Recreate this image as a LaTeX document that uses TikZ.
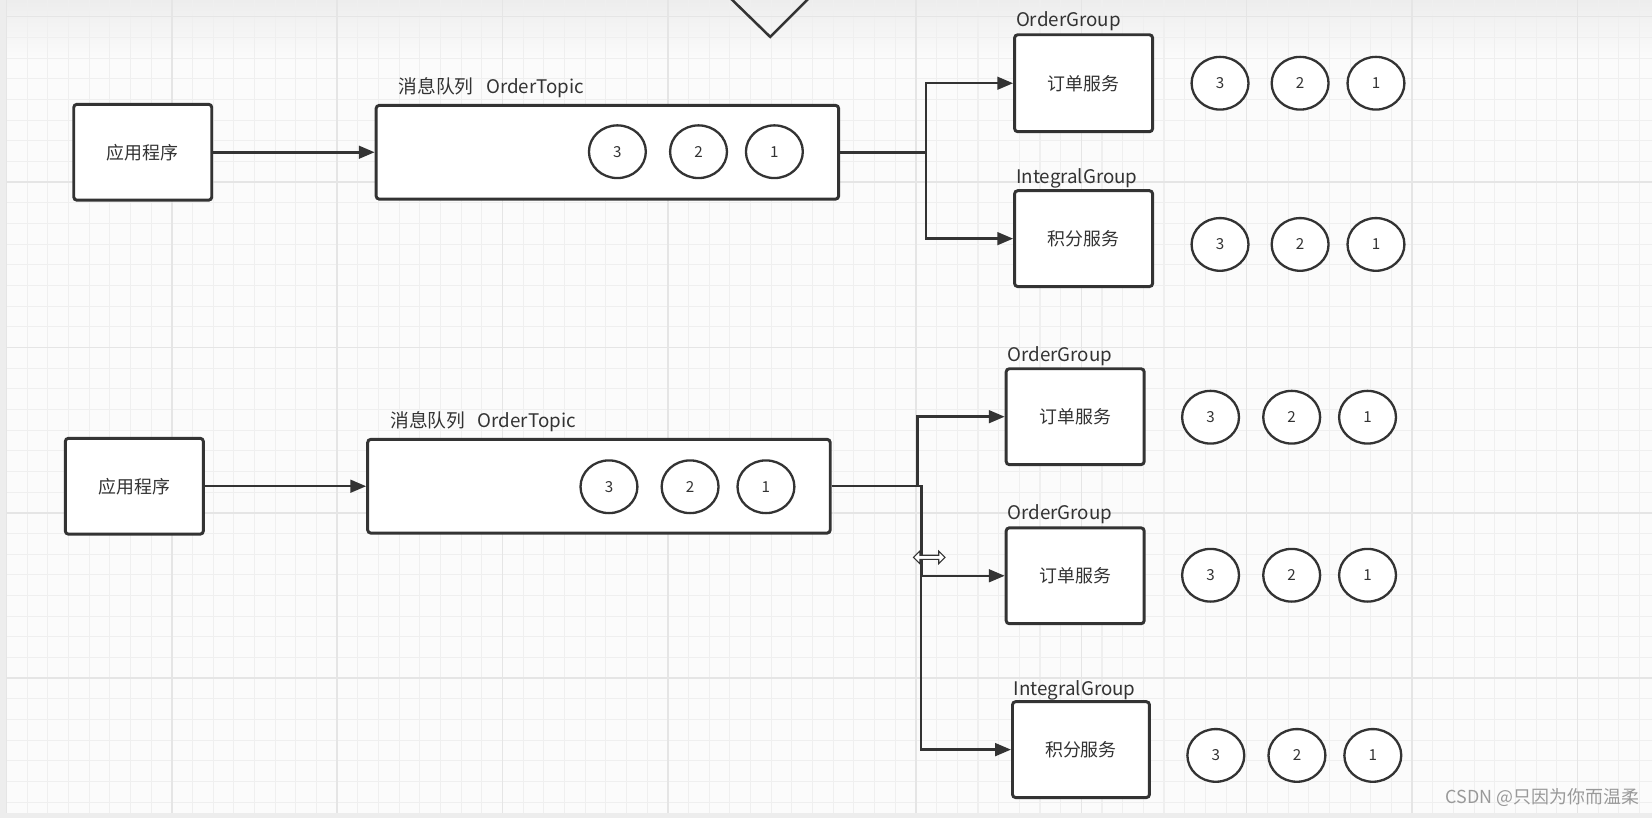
\documentclass[tikz,border=0pt]{standalone}
\usepackage{fontspec}
\setmainfont{Noto Sans CJK SC}
\usetikzlibrary{shapes.geometric,arrows.meta}
\definecolor{ink}{HTML}{333333}
\definecolor{bg}{HTML}{FBFBFB}
\definecolor{gridminor}{HTML}{EFEFEF}
\definecolor{gridmajor}{HTML}{E5E5E5}
\definecolor{strip}{HTML}{EDEDED}
\definecolor{mark}{HTML}{999999}
\begin{document}
\begin{tikzpicture}[x=0.5pt,y=-0.5pt,
 box/.style={draw=ink,line width=1.4pt,rounded corners=1.5pt,fill=white,minimum width=65.5pt,minimum height=45.5pt,inner sep=0pt,font=\fontsize{8.5}{9}\selectfont,text=ink},
 queue/.style={box,minimum width=219.5pt,minimum height=44.5pt},
 msg/.style={draw=ink,ellipse,fill=white,line width=1.1pt,minimum width=27pt,minimum height=25pt,inner sep=0pt,font=\fontsize{7.2}{8}\selectfont,text=ink},
 grouplabel/.style={anchor=west,inner sep=0pt,font=\fontsize{8.9}{9}\selectfont,text=ink},
 conn/.style={draw=ink,line width=1.2pt},
 arr/.style={conn,-{Triangle[length=7.5pt,width=6pt]}},
 minorline/.style={draw=gridminor,line width=0.5pt},
 majorline/.style={draw=gridmajor,line width=0.7pt},
]
\useasboundingbox (0,0) rectangle (1568,776);
% background and grid
\fill[bg] (0,0) rectangle (1568,776);
\shade[top color=strip,bottom color=bg] (0,0) rectangle (1568,55);
\foreach \k in {0,...,79} {\draw[minorline] ({6.1+19.62*\k},0) -- ({6.1+19.62*\k},772);}
\foreach \k in {-1,...,38} {\draw[minorline] (0,{15.9+19.62*\k}) -- (1568,{15.9+19.62*\k});}
\foreach \k in {0,8,16,24,32,44,52,60,68,76} {\draw[majorline] ({6.1+19.62*\k},0) -- ({6.1+19.62*\k},772);}
\foreach \k in {0,8,16,24,32} {\draw[majorline] (0,{15.9+19.62*\k}) -- (1568,{15.9+19.62*\k});}
\fill[strip] (0,0) rectangle (6,776);
\fill[strip] (0,772) rectangle (1568,776);

% partial shape at top
\draw[ink,line width=1.2pt] (693,-2) -- (731,35) -- (768,-2);

% ===== top section =====
\node[box] (app1) at (135.5,144.5) {应用程序};
\node[queue] (q1) at (576.5,144.5) {};
\node[grouplabel] (q1l) at (378,83) {消息队列\hspace{6pt}OrderTopic};
\node[msg] (q1m3) at (586,144) {3};
\node[msg] (q1m2) at (663,144) {2};
\node[msg] (q1m1) at (735,144) {1};

\node[box,minimum height=46pt] (og1) at (1028.5,79) {订单服务};
\node[grouplabel] (og1l) at (964,20) {OrderGroup};
\node[msg] (og1m3) at (1158,79) {3};
\node[msg] (og1m2) at (1234,79) {2};
\node[msg] (og1m1) at (1306,79) {1};

\node[box] (ig1) at (1028.5,226.5) {积分服务};
\node[grouplabel] (ig1l) at (964,169) {IntegralGroup};
\node[msg] (ig1m3) at (1158,232) {3};
\node[msg] (ig1m2) at (1234,232) {2};
\node[msg] (ig1m1) at (1306,232) {1};

\coordinate (j1) at (879,144.5);
\draw[arr] (app1.east) -- (q1.west);
\draw[arr] (q1.east) -- (j1) |- (og1.west);
\draw[arr] (q1.east) -- (j1) |- (ig1.west);

% ===== bottom section =====
\node[box] (app2) at (127.5,461.5) {应用程序};
\node[queue] (q2) at (568.5,461.5) {};
\node[grouplabel] (q2l) at (370,400) {消息队列\hspace{6pt}OrderTopic};
\node[msg] (q2m3) at (578,462) {3};
\node[msg] (q2m2) at (655,462) {2};
\node[msg] (q2m1) at (727,462) {1};

\node[box] (og2) at (1020.5,395.5) {订单服务};
\node[grouplabel] (og2l) at (956,338) {OrderGroup};
\node[msg] (og2m3) at (1149,396) {3};
\node[msg] (og2m2) at (1226,396) {2};
\node[msg] (og2m1) at (1298,396) {1};

\node[box] (og3) at (1020.5,546.5) {订单服务};
\node[grouplabel] (og3l) at (956,488) {OrderGroup};
\node[msg] (og3m3) at (1149,546) {3};
\node[msg] (og3m2) at (1226,546) {2};
\node[msg] (og3m1) at (1298,546) {1};

\node[box,minimum width=65pt] (ig2) at (1026,711.5) {积分服务};
\node[grouplabel] (ig2l) at (962,655) {IntegralGroup};
\node[msg] (ig2m3) at (1154,717) {3};
\node[msg] (ig2m2) at (1231,717) {2};
\node[msg] (ig2m1) at (1303,717) {1};

\coordinate (jA) at (871,461.5);
\coordinate (jB) at (875,461.5);
\coordinate (jC) at (874,461.5);
\draw[arr] (app2.east) -- (q2.west);
\draw[arr] (q2.east) -- (jA) |- (og2.west);
\draw[arr] (q2.east) -- (jB) |- (og3.west);
\draw[arr] (q2.east) -- (jC) |- (ig2.west);

% resize cursor
\draw[ink,fill=white,line width=0.5pt,line join=miter]
  (867,529) -- (873,523) -- (873,527) -- (891,527) -- (891,523) -- (897,529)
  -- (891,535) -- (891,531) -- (873,531) -- (873,535) -- cycle;

% watermark
\node[anchor=east,inner sep=0pt,text=mark,font=\fontsize{8.5}{9}\selectfont] (wm) at (1556,757) {CSDN @只因为你而温柔};
\end{tikzpicture}
\end{document}
